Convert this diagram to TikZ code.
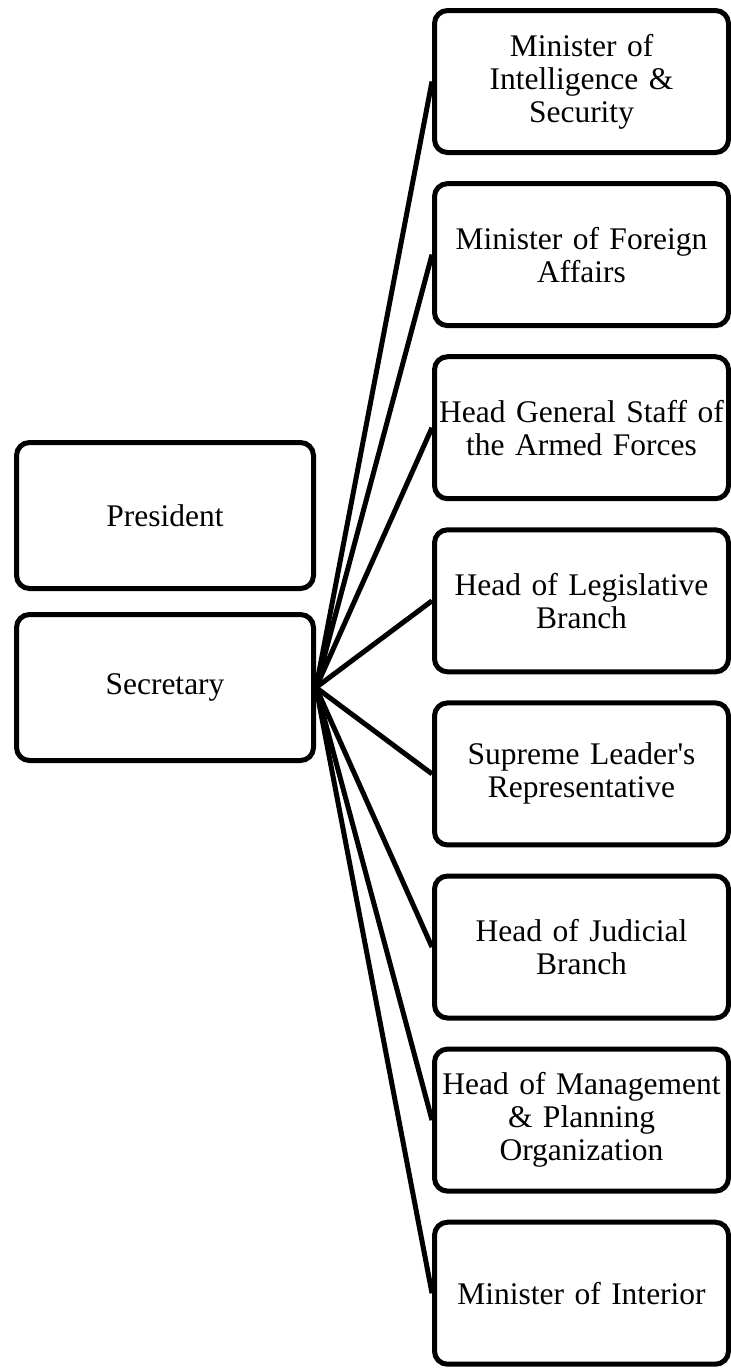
\documentclass[tikz,border=0pt]{standalone}
\usepackage{fontspec}
\setmainfont{Liberation Serif}
\begin{document}
\begin{tikzpicture}[x=1pt,y=-1pt,
  box/.style={draw=black,line width=5pt,rounded corners=13pt,fill=white,
    align=center,inner sep=2pt,font=\fontsize{31.5}{33}\selectfont},
  lbox/.style={box,minimum width=297pt,minimum height=146pt,text width=290pt},
  rbox/.style={box,minimum width=290pt,minimum height=142pt,text width=290pt},
  link/.style={line width=5pt}]
\useasboundingbox (0,0) rectangle (731,1369);
\node[lbox] (pres) at (165,515.5) {President};
\node[lbox] (sec) at (165,687.5) {Secretary};
\node[rbox] (r1) at (581.5,81.5) {Minister of\\Intelligence \&\\Security};
\node[rbox] (r2) at (581.5,254.6) {Minister of Foreign\\Affairs};
\node[rbox] (r3) at (581.5,427.7) {Head General Staff of\\the Armed Forces};
\node[rbox] (r4) at (581.5,600.8) {Head of Legislative\\Branch};
\node[rbox] (r5) at (581.5,773.9) {Supreme Leader\textquotesingle s\\Representative};
\node[rbox] (r6) at (581.5,947) {Head of Judicial\\Branch};
\node[rbox] (r7) at (581.5,1120.1) {Head of Management\\\& Planning\\Organization};
\node[rbox] (r8) at (581.5,1293.2) {Minister of Interior};
\foreach \i in {1,...,8} \draw[link] (sec.east) -- (r\i.west);
\end{tikzpicture}
\end{document}
